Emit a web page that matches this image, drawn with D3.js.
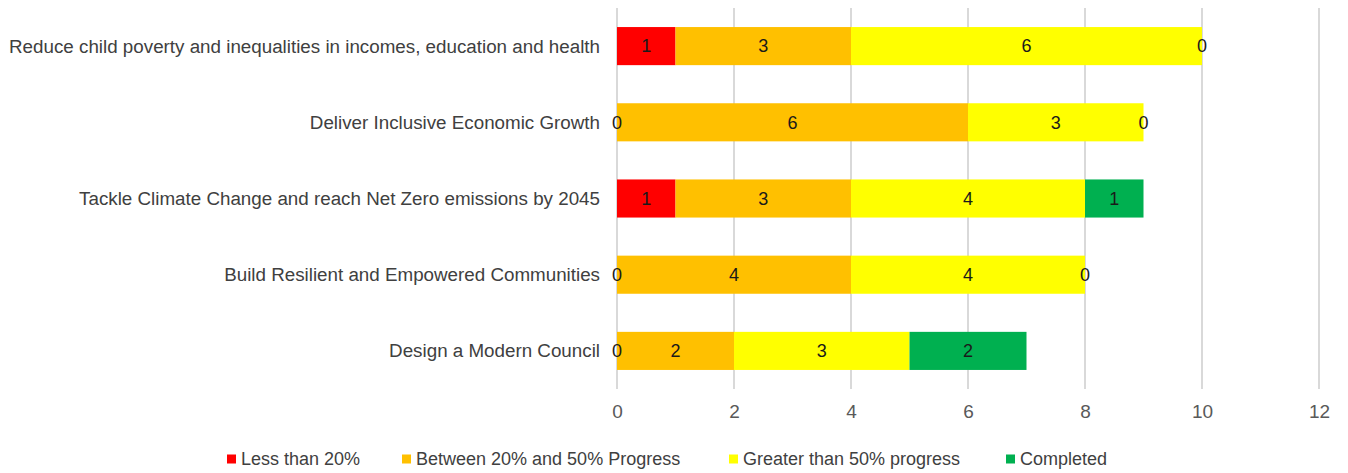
<!DOCTYPE html>
<html><head><meta charset="utf-8">
<script src="https://cdn.jsdelivr.net/npm/d3@7"></script>
<style>body{margin:0;background:#fff}svg{display:block}text{font-family:"Liberation Sans",Arial,sans-serif}</style>
</head><body><svg id="c" width="1348" height="473"></svg>
<script>
const categories = ["Reduce child poverty and inequalities in incomes, education and health","Deliver Inclusive Economic Growth","Tackle Climate Change and reach Net Zero emissions by 2045","Build Resilient and Empowered Communities","Design a Modern Council"];
const seriesNames = ["Less than 20%","Between 20% and 50% Progress","Greater than 50% progress","Completed"];
const lessThan20 = [1,0,1,0,0];
const between20and50 = [3,6,3,4,2];
const greaterThan50 = [6,3,4,4,3];
const completed = [0,0,1,0,2];
const xTicks = [0,2,4,6,8,10,12];
const colors = ["#FF0000","#FFC000","#FFFF00","#00B050"];

const svg = d3.select("#c");
const x = d3.scaleLinear().domain([0,12]).range([617,1319]);
const y = d3.scaleBand().domain(categories).range([8,389]).paddingInner(0.5).paddingOuter(0.25);

const rows = categories.map((c,i)=>({cat:c, vals:[lessThan20[i],between20and50[i],greaterThan50[i],completed[i]]}));
const stack = d3.stack().keys([0,1,2,3]).value((d,k)=>d.vals[k]);
const series = stack(rows);

// grid
svg.append("g").selectAll("line").data(xTicks).join("line")
  .attr("x1",d=>x(d)).attr("x2",d=>x(d)).attr("y1",8).attr("y2",389)
  .attr("stroke","#d9d9d9").attr("stroke-width",2);

// bars
series.forEach((s,k)=>{
  svg.append("g").selectAll("rect").data(s).join("rect")
    .attr("x",d=>x(d[0])).attr("width",d=>x(d[1])-x(d[0]))
    .attr("y",d=>y(d.data.cat)).attr("height",y.bandwidth())
    .attr("fill",colors[k]);
});
// data labels
series.forEach((s,k)=>{
  svg.append("g").selectAll("text").data(s).join("text")
    .attr("x",d=>x((d[0]+d[1])/2)).attr("y",d=>y(d.data.cat)+y.bandwidth()/2)
    .attr("dy","0.35em").attr("text-anchor","middle")
    .attr("font-size",18).attr("fill","#1a1a1a")
    .text(d=>d.data.vals[k]);
});

// category labels
svg.append("g").selectAll("text").data(categories).join("text")
  .attr("x",600).attr("y",d=>y(d)+y.bandwidth()/2).attr("dy","0.35em")
  .attr("text-anchor","end").attr("font-size",18.8).attr("fill","#404040")
  .text(d=>d);

// x axis
const ax = svg.append("g").attr("transform","translate(0,389)")
  .call(d3.axisBottom(x).tickValues(xTicks).tickSize(0).tickPadding(16));
ax.select(".domain").remove();
ax.selectAll("text").attr("font-size",19).attr("fill","#595959").attr("font-family","Liberation Sans, Arial, sans-serif");

// legend
const legX = [227,402,729,1006];
const leg = svg.append("g").selectAll("g").data(seriesNames).join("g")
  .attr("transform",(d,i)=>`translate(${legX[i]},459)`);
leg.append("rect").attr("x",0).attr("y",-4.5).attr("width",9).attr("height",9).attr("fill",(d,i)=>colors[i]);
leg.append("text").attr("x",14).attr("dy","0.35em").attr("font-size",18).attr("fill","#404040").text(d=>d);
</script></body></html>
